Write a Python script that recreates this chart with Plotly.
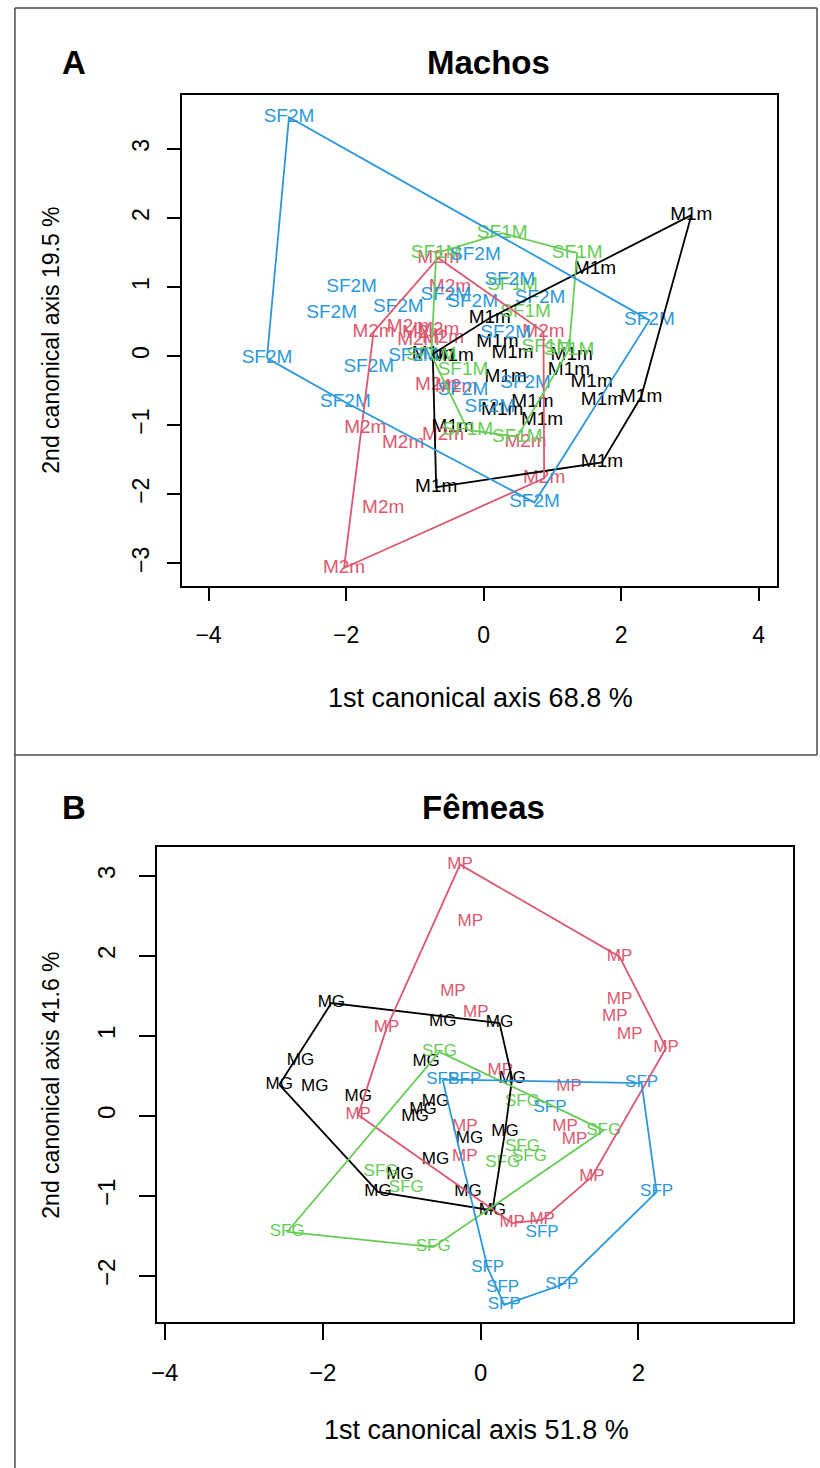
import plotly.graph_objects as go

# ---------------- DATA: panel A (Machos) ----------------
a_groups = ["M1m", "M2m", "SF1M", "SF2M"]
a_colors = {"M1m": "#000000", "M2m": "#DC5870", "SF1M": "#66CC55", "SF2M": "#2C98DC"}

sf2m_x = [-2.83, -0.12, -1.92, -2.21, -1.24, -0.55, -0.16, -3.15, -1.67, -1.02,
          -0.30, -2.01, 0.38, 0.82, 2.41, 0.32, 0.61, 0.09, 0.74]
sf2m_y = [3.46, 1.46, 0.99, 0.62, 0.70, 0.88, 0.78, -0.03, -0.16, -0.01,
          -0.49, -0.67, 1.10, 0.84, 0.52, 0.33, -0.39, -0.74, -2.12]

m1m_x = [3.02, 1.62, 0.09, 0.20, -0.74, -0.45, 0.42, 1.28, 1.24, 1.57,
         0.32, 1.72, 2.29, 0.71, 0.27, 0.85, -0.45, 1.72, -0.69]
m1m_y = [2.04, 1.25, 0.55, 0.20, 0.03, -0.01, 0.04, 0.01, -0.20, -0.38,
         -0.30, -0.64, -0.59, -0.67, -0.78, -0.93, -1.03, -1.54, -1.90]

m2m_x = [-0.66, -0.49, -1.60, -1.10, -0.88, -0.66, -0.95, -0.59, -0.69, -0.40,
         -1.72, -1.17, -0.59, -1.46, -2.03, 0.61, 0.88, 0.87]
m2m_y = [1.42, 1.00, 0.35, 0.42, 0.33, 0.38, 0.23, 0.26, -0.42, -0.45,
         -1.04, -1.26, -1.14, -2.20, -3.07, -1.25, -1.77, 0.35]

sf1m_x = [-0.69, 0.27, 1.36, 0.42, 0.61, 0.92, 1.24, -0.30, -0.23, 0.49, -0.76]
sf1m_y = [1.49, 1.78, 1.49, 1.03, 0.64, 0.13, 0.09, -0.20, -1.07, -1.17, 0.01]

a_data = {"M1m": (m1m_x, m1m_y), "M2m": (m2m_x, m2m_y),
          "SF1M": (sf1m_x, sf1m_y), "SF2M": (sf2m_x, sf2m_y)}

# ---------------- DATA: panel B (Fêmeas) ----------------
b_groups = ["MG", "MP", "SFG", "SFP"]
b_colors = {"MG": "#000000", "MP": "#DC5870", "SFG": "#66CC55", "SFP": "#2C98DC"}

mp_x = [-0.26, -0.13, -0.35, -1.19, -0.06, 1.76, 1.76, 1.70, 1.89, 2.35,
        0.25, 1.12, 1.07, 1.19, -0.20, -0.20, 1.41, 0.40, 0.78, -1.55]
mp_y = [3.14, 2.43, 1.55, 1.10, 1.29, 1.99, 1.45, 1.24, 1.01, 0.85,
        0.56, 0.36, -0.14, -0.30, -0.14, -0.51, -0.76, -1.34, -1.30, 0.01]

mg_x = [-1.89, -0.48, 0.24, -2.28, -0.69, -2.55, -2.10, 0.40, -1.55, -0.57,
        -0.73, -0.83, -0.14, 0.31, -0.57, -1.02, -1.30, -0.16, 0.15]
mg_y = [1.41, 1.18, 1.16, 0.69, 0.68, 0.39, 0.36, 0.47, 0.24, 0.18,
        0.08, -0.01, -0.28, -0.20, -0.55, -0.74, -0.95, -0.95, -1.18]

sfg_x = [-0.52, 0.53, 1.56, 0.53, 0.62, 0.28, -1.26, -0.94, -2.45, -0.60]
sfg_y = [0.80, 0.18, -0.18, -0.39, -0.51, -0.58, -0.70, -0.90, -1.45, -1.64]

sfp_x = [-0.48, -0.20, 2.04, 0.88, 2.23, 0.78, 0.09, 0.28, 1.03, 0.30]
sfp_y = [0.45, 0.45, 0.41, 0.10, -0.95, -1.46, -1.90, -2.15, -2.11, -2.36]

b_data = {"MG": (mg_x, mg_y), "MP": (mp_x, mp_y),
          "SFG": (sfg_x, sfg_y), "SFP": (sfp_x, sfp_y)}

a_xticks = [-4, -2, 0, 2, 4]
a_yticks = [-3, -2, -1, 0, 1, 2, 3]
b_xticks = [-4, -2, 0, 2]
b_yticks = [-2, -1, 0, 1, 2, 3]

a_title, b_title = "Machos", "Fêmeas"
a_xlab, a_ylab = "1st canonical axis 68.8 %", "2nd canonical axis 19.5 %"
b_xlab, b_ylab = "1st canonical axis 51.8 %", "2nd canonical axis 41.6 %"


def hull(xs, ys):
    pts = sorted(set(zip(xs, ys)))
    if len(pts) < 3:
        return pts

    def cross(o, a, b):
        return (a[0] - o[0]) * (b[1] - o[1]) - (a[1] - o[1]) * (b[0] - o[0])

    lower, upper = [], []
    for p in pts:
        while len(lower) >= 2 and cross(lower[-2], lower[-1], p) <= 0:
            lower.pop()
        lower.append(p)
    for p in reversed(pts):
        while len(upper) >= 2 and cross(upper[-2], upper[-1], p) <= 0:
            upper.pop()
        upper.append(p)
    h = lower[:-1] + upper[:-1]
    return h + [h[0]]


def minus(v):
    return f"{v}".replace("-", "\u2212")


W, H = 820, 1468
FONT = "Liberation Sans, Arial, sans-serif"


def fx(p):
    return p / W


def fy(p):
    return 1 - p / H


fig = go.Figure()

for groups, data, colors, xa, ya, size in [
    (a_groups, a_data, a_colors, "x", "y", 19),
    (b_groups, b_data, b_colors, "x2", "y2", 17),
]:
    for g in groups:
        xs, ys = data[g]
        fig.add_trace(go.Scatter(
            x=xs, y=ys, mode="text", text=[g] * len(xs),
            textfont=dict(family=FONT, size=size, color=colors[g]),
            xaxis=xa, yaxis=ya, showlegend=False, hoverinfo="skip"))
    for g in groups:
        xs, ys = data[g]
        h = hull(xs, ys)
        fig.add_trace(go.Scatter(
            x=[p[0] for p in h], y=[p[1] for p in h], mode="lines",
            line=dict(color=colors[g], width=1.8),
            xaxis=xa, yaxis=ya, showlegend=False, hoverinfo="skip"))


def axis(size, ticklen):
    return dict(showgrid=False, zeroline=False, showline=True, mirror=True,
                linecolor="black", linewidth=1.5, ticks="outside",
                ticklen=ticklen, tickwidth=1.5, tickcolor="black",
                tickfont=dict(family=FONT, size=size, color="black"),
                fixedrange=True)


fig.update_layout(
    width=W, height=H, margin=dict(l=0, r=0, t=0, b=0),
    paper_bgcolor="white", plot_bgcolor="white",
    xaxis=dict(domain=[fx(177), fx(777)], range=[-4.39, 4.27], anchor="y",
               tickvals=a_xticks, ticktext=[minus(v) for v in a_xticks],
               ticklabelstandoff=15, **axis(23, 13)),
    yaxis=dict(domain=[fy(586), fy(95)], range=[-3.33, 3.78], anchor="x",
               tickvals=a_yticks, ticktext=[minus(v) for v in a_yticks],
               tickangle=-90, ticklabelstandoff=9, **axis(23, 13)),
    xaxis2=dict(domain=[fx(152), fx(793)], range=[-4.10, 3.96], anchor="y2",
                tickvals=b_xticks, ticktext=[minus(v) for v in b_xticks],
                ticklabelstandoff=12, **axis(24, 16)),
    yaxis2=dict(domain=[fy(1322), fy(847)], range=[-2.575, 3.36], anchor="x2",
                tickvals=b_yticks, ticktext=[minus(v) for v in b_yticks],
                tickangle=-90, ticklabelstandoff=15, **axis(24, 16)),
)

ann = []
def add_text(t, x, y, size, bold=False, angle=0):
    ann.append(dict(text=f"<b>{t}</b>" if bold else t, x=fx(x), y=fy(y),
                    xref="paper", yref="paper", showarrow=False,
                    xanchor="center", yanchor="middle", textangle=angle,
                    font=dict(family=FONT, size=size, color="black")))

add_text("A", 68, 62, 33, bold=True)
add_text(a_title, 486, 62, 33, bold=True)
add_text(a_xlab, 478, 698, 27)
add_text(a_ylab, 45, 340, 23, angle=-90)
add_text("B", 68, 807, 33, bold=True)
add_text(b_title, 481, 807, 33, bold=True)
add_text(b_xlab, 474, 1430, 27)
add_text(b_ylab, 45, 1085, 23, angle=-90)
fig.update_layout(annotations=ann)

frame = dict(type="line", xref="paper", yref="paper",
             line=dict(color="#4a4a4a", width=1.5))
shapes = [
    dict(x0=fx(9), x1=fx(817), y0=fy(8), y1=fy(8), **frame),
    dict(x0=fx(9), x1=fx(9), y0=fy(8), y1=fy(1468), **frame),
    dict(x0=fx(9), x1=fx(817), y0=fy(755), y1=fy(755), **frame),
    dict(x0=fx(817), x1=fx(817), y0=fy(8), y1=fy(755), **frame),
]
fig.update_layout(shapes=shapes)

fig.write_html("out.html")
